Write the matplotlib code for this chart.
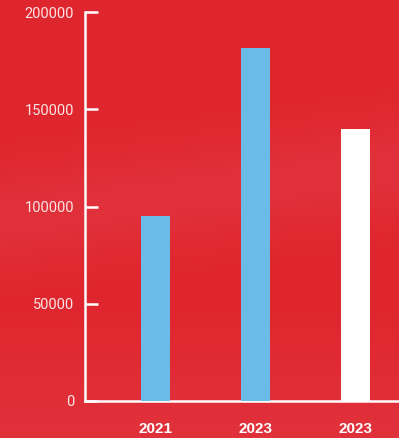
import matplotlib
matplotlib.use("Agg")
import matplotlib.pyplot as plt
import numpy as np

categories = ["2021", "2023", "2023"]
values = [95000, 181500, 140000]
bar_colors = ["#6BBBE9", "#6BBBE9", "#FFFFFF"]
yticks = [0, 50000, 100000, 150000, 200000]

W, H = 399, 438
fig = plt.figure(figsize=(W / 100, H / 100), dpi=100)
fig.patch.set_facecolor("#E0262E")

# subtle background texture/gradient
bg = fig.add_axes([0, 0, 1, 1], zorder=-10)
yy, xx = np.mgrid[0:1:200j, 0:1:200j]
band = np.exp(-((yy - 0.5 - 0.12 * xx) ** 2) / 0.012) * 0.3 + np.clip((0.3 - yy) / 0.3, 0, 1) * 0.3
base = np.array([0.878, 0.149, 0.180])
light = np.array([0.89, 0.30, 0.36])
img = base[None, None, :] * (1 - band[..., None]) + light[None, None, :] * band[..., None]
bg.imshow(img, extent=[0, 1, 0, 1], aspect="auto", origin="lower")
bg.axis("off")

ax = fig.add_axes([85 / W, 1 - 401 / H, (W - 85) / W, (401 - 12) / H])
ax.patch.set_alpha(0)
x = np.arange(len(categories))
ax.bar(x, values, width=0.29, color=bar_colors, zorder=3)
ax.set_xlim(-0.705, 2.435)
ax.set_ylim(0, 200000)
ax.set_yticks(yticks)
ax.set_yticklabels([str(v) for v in yticks], color="#FBE4E5", fontsize=10.5,
                   family="Roboto")
ax.set_xticks(x)
ax.set_xticklabels(categories, color="white", fontsize=11, fontweight="bold",
                   family="Liberation Sans")
ax.tick_params(axis="y", direction="in", length=9, width=1.8, color="white", pad=8)
ax.tick_params(axis="x", length=0, pad=15)
for s in ["top", "right"]:
    ax.spines[s].set_visible(False)
for s in ["left", "bottom"]:
    ax.spines[s].set_color("white")
    ax.spines[s].set_linewidth(1.8)

fig.savefig("out.png", dpi=100, facecolor=fig.get_facecolor())
